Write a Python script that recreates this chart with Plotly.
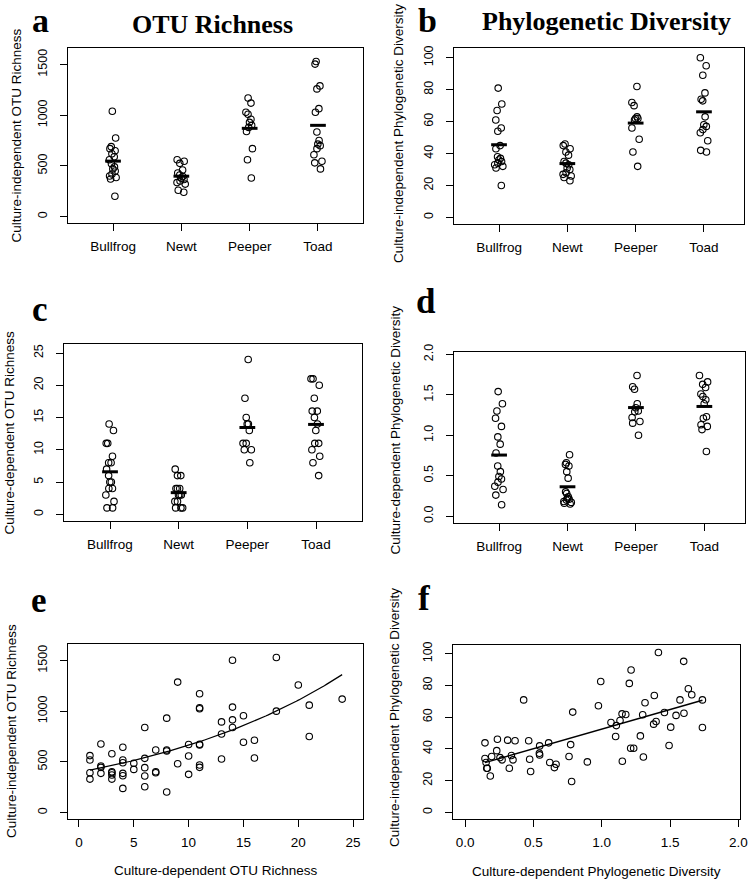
import numpy as np
import plotly.graph_objects as go

groups = ["Bullfrog", "Newt", "Peeper", "Toad"]

# (a) culture-independent OTU richness
a_bullfrog = [1040, 775, 690, 670, 650, 620, 590, 560, 520, 490, 470, 450, 420, 400, 385, 370, 200]
a_newt = [560, 545, 525, 460, 430, 410, 395, 380, 365, 350, 335, 320, 260, 240]
a_peeper = [1170, 1120, 1030, 1010, 960, 930, 900, 880, 840, 670, 560, 380]
a_toad = [1530, 1505, 1290, 1260, 1065, 1030, 835, 750, 715, 700, 670, 610, 545, 530, 470]

# (b) culture-independent phylogenetic diversity
b_bullfrog = [81, 71, 67, 61, 56, 54, 45, 43, 38, 37, 36, 35, 34, 33, 32, 31, 20]
b_newt = [46, 45, 43, 41, 39, 35, 34, 33, 31, 30, 28, 27, 26, 25, 23]
b_peeper = [82, 72, 70, 63, 62, 62, 61, 56, 49, 41, 32]
b_toad = [100, 95, 89, 78, 74, 73, 63, 58, 57, 55, 53, 48, 42, 41]

# (c) culture-dependent OTU richness
c_bullfrog = [14, 13, 11, 11, 9, 8, 8, 7, 6, 5, 5, 4, 4, 3, 2, 1, 1]
c_newt = [7, 6, 6, 4, 4, 4, 3, 3, 3, 2, 2, 1, 1, 1]
c_peeper = [24, 18, 15, 14, 14, 13, 11, 11, 10, 10, 8]
c_toad = [21, 21, 20, 18, 16, 16, 15, 14, 13, 11, 11, 10, 9, 8, 6]

# (d) culture-dependent phylogenetic diversity
d_bullfrog = [1.54, 1.39, 1.30, 1.21, 1.11, 0.98, 0.89, 0.78, 0.62, 0.55, 0.49, 0.46, 0.42, 0.37, 0.33, 0.26, 0.14]
d_newt = [0.76, 0.66, 0.64, 0.62, 0.55, 0.47, 0.30, 0.28, 0.24, 0.21, 0.22, 0.20, 0.18, 0.17, 0.16, 0.15]
d_peeper = [1.74, 1.60, 1.57, 1.39, 1.34, 1.30, 1.29, 1.22, 1.17, 1.15, 1.00]
d_toad = [1.74, 1.66, 1.63, 1.59, 1.51, 1.48, 1.44, 1.39, 1.23, 1.21, 1.13, 1.11, 1.07, 0.80]

# (e) culture-dependent vs culture-independent OTU richness
e_x = [1, 1, 1, 1, 2, 2, 2, 2, 3, 3, 3, 3, 3, 4, 4, 4, 4, 4, 4, 5, 5, 6, 6, 6, 6, 6, 7, 7, 7,
       8, 8, 8, 8, 9, 9, 10, 10, 10, 11, 11, 11, 11, 11, 11, 11, 13, 13, 13, 14, 14, 14, 14,
       15, 15, 16, 16, 18, 18, 20, 21, 21, 24]
e_y = [562, 519, 393, 330, 677, 459, 446, 387, 581, 403, 393, 370, 330, 644, 519, 492, 387, 363, 238,
       486, 426, 839, 535, 443, 360, 254, 618, 403, 393, 932, 618, 608, 202, 1288, 482, 671, 558, 377,
       1173, 1034, 1024, 674, 667, 469, 446, 895, 776, 529, 1503, 1041, 915, 839, 955, 694, 714, 538,
       1530, 1001, 1259, 1060, 750, 1120]

# (f) culture-dependent vs culture-independent phylogenetic diversity
f_x = [0.146, 0.146, 0.154, 0.159, 0.163, 0.185, 0.195, 0.232, 0.237, 0.256, 0.271, 0.312, 0.324,
       0.339, 0.351, 0.366, 0.429, 0.466, 0.473, 0.480, 0.544, 0.546, 0.546, 0.612, 0.620, 0.654,
       0.666, 0.761, 0.773, 0.780, 0.788, 0.895, 0.976, 0.993, 1.068, 1.102, 1.107, 1.134, 1.151,
       1.149, 1.176, 1.202, 1.212, 1.215, 1.234, 1.283, 1.300, 1.305, 1.317, 1.380, 1.385, 1.398,
       1.415, 1.459, 1.493, 1.505, 1.544, 1.573, 1.602, 1.600, 1.634, 1.659, 1.737, 1.737]
f_y = [43.8, 33.9, 31.4, 27.8, 27.8, 22.9, 35.2, 38.9, 46.1, 34.5, 33.1, 45.5, 27.8, 35.8, 33.1,
       45.1, 70.9, 45.1, 33.5, 25.7, 37.3, 41.9, 36.2, 43.8, 31.4, 28.2, 30.3, 35.2, 42.7, 19.4,
       63.2, 31.8, 67.2, 82.5, 56.6, 47.8, 54.7, 57.9, 32.2, 62.1, 61.7, 81.3, 40.4, 89.7, 40.4,
       48.2, 61.5, 34.9, 69.1, 55.6, 73.7, 57.3, 100.8, 62.9, 42.1, 53.7, 61.1, 70.9, 62.5, 95.2,
       77.9, 74.1, 70.9, 53.5]

W, H = 750, 881
SANS = "Liberation Sans, Arial, sans-serif"
SERIF = "Liberation Serif, Times New Roman, serif"


def px_dom(x0, x1, y0, y1):
    return [x0 / W, x1 / W], [1 - y1 / H, 1 - y0 / H]


fig = go.Figure()

marker = dict(symbol="circle-open", size=6.5, color="black", line=dict(width=1.1, color="black"))

strip_panels = [
    (1, [a_bullfrog, a_newt, a_peeper, a_toad]),
    (2, [b_bullfrog, b_newt, b_peeper, b_toad]),
    (3, [c_bullfrog, c_newt, c_peeper, c_toad]),
    (4, [d_bullfrog, d_newt, d_peeper, d_toad]),
]

for k, data in strip_panels:
    xa = "x" if k == 1 else f"x{k}"
    ya = "y" if k == 1 else f"y{k}"
    for i, vals in enumerate(data):
        pos = i + 1
        fig.add_trace(go.Box(
            y=vals, x0=pos, xaxis=xa, yaxis=ya, boxpoints="all", jitter=0.75, pointpos=0,
            width=0.2, fillcolor="rgba(0,0,0,0)", line=dict(color="rgba(0,0,0,0)", width=0),
            marker=marker, hoverinfo="skip", showlegend=False,
        ))
        m = float(np.mean(vals))
        fig.add_trace(go.Scatter(
            x=[pos - 0.115, pos + 0.115], y=[m, m], mode="lines", xaxis=xa, yaxis=ya,
            line=dict(color="black", width=3), hoverinfo="skip", showlegend=False,
        ))

# (e) scatter with Poisson (log-link) fit
ex = np.array(e_x, dtype=float)
ey = np.array(e_y, dtype=float)
X = np.column_stack([np.ones_like(ex), ex])
beta = np.array([np.log(ey.mean()), 0.0])
for _ in range(50):
    eta = X @ beta
    mu = np.exp(eta)
    z = eta + (ey - mu) / mu
    Wt = mu
    beta = np.linalg.solve(X.T @ (X * Wt[:, None]), X.T @ (Wt * z))
xs = np.linspace(ex.min(), ex.max(), 100)
ys = np.exp(beta[0] + beta[1] * xs)

fig.add_trace(go.Scatter(x=e_x, y=e_y, mode="markers", xaxis="x5", yaxis="y5",
                         marker=marker, hoverinfo="skip", showlegend=False))
fig.add_trace(go.Scatter(x=xs, y=ys, mode="lines", xaxis="x5", yaxis="y5",
                         line=dict(color="black", width=1.2), hoverinfo="skip", showlegend=False))

# (f) scatter with linear fit
fx = np.array(f_x)
fy = np.array(f_y)
slope, intercept = np.polyfit(fx, fy, 1)
xl = np.array([fx.min(), fx.max()])
fig.add_trace(go.Scatter(x=f_x, y=f_y, mode="markers", xaxis="x6", yaxis="y6",
                         marker=marker, hoverinfo="skip", showlegend=False))
fig.add_trace(go.Scatter(x=xl, y=intercept + slope * xl, mode="lines", xaxis="x6", yaxis="y6",
                         line=dict(color="black", width=1.5), hoverinfo="skip", showlegend=False))

axis_common = dict(
    showline=True, linecolor="black", linewidth=1, mirror=True, ticks="outside", ticklen=7,
    tickwidth=1, tickcolor="black", showgrid=False, zeroline=False, automargin=False,
)
xtick_font = dict(family=SANS, size=13.5, color="black")
ytick_font = dict(family=SANS, size=12.5, color="black")

boxes = {
    1: (68, 363, 48, 223),
    2: (454, 744, 48, 224),
    3: (64, 362, 344, 521),
    4: (454, 745, 352, 523),
    5: (68, 363, 644, 819),
    6: (453, 740, 645, 819),
}
xranges = {1: [0.341, 4.659], 2: [0.341, 4.586], 3: [0.33, 4.67], 4: [0.341, 4.594],
           5: [-1.0, 25.9], 6: [-0.088, 2.012]}
yranges = {1: [-64, 1664], 2: [-4.1, 106.1], 3: [-1.04, 26.4], 4: [-0.085, 2.03],
           5: [-64, 1664], 6: [-4.2, 105.5]}
yticks = {1: [0, 500, 1000, 1500], 2: [0, 20, 40, 60, 80, 100], 3: [0, 5, 10, 15, 20, 25],
          4: [0, 0.5, 1.0, 1.5, 2.0], 5: [0, 500, 1000, 1500], 6: [0, 20, 40, 60, 80, 100]}

layout = dict(
    width=W, height=H, margin=dict(l=0, r=0, t=0, b=0, pad=0, autoexpand=False),
    paper_bgcolor="white", plot_bgcolor="white", showlegend=False,
)
for k, (x0, x1, y0, y1) in boxes.items():
    dx, dy = px_dom(x0, x1, y0, y1)
    xn = "xaxis" if k == 1 else f"xaxis{k}"
    yn = "yaxis" if k == 1 else f"yaxis{k}"
    xa = dict(axis_common, domain=dx, range=xranges[k], anchor="y" if k == 1 else f"y{k}",
              tickfont=xtick_font, ticklabelstandoff=4)
    if k <= 4:
        xa.update(tickmode="array", tickvals=[1, 2, 3, 4], ticktext=groups)
    elif k == 5:
        xa.update(tickmode="array", tickvals=[0, 5, 10, 15, 20, 25])
    else:
        xa.update(tickmode="array", tickvals=[0, 0.5, 1.0, 1.5, 2.0], tickformat=".1f")
    ya = dict(axis_common, domain=dy, range=yranges[k], anchor="x" if k == 1 else f"x{k}",
              tickfont=ytick_font, tickangle=-90, tickmode="array", tickvals=yticks[k],
              ticklabelstandoff=8)
    if k == 4:
        ya["tickformat"] = ".1f"
    layout[xn] = xa
    layout[yn] = ya

annotations = []


def ann(text, x, y, size, family, angle=0, bold=False, yanchor="middle"):
    annotations.append(dict(
        text=f"<b>{text}</b>" if bold else text, x=x / W, y=1 - y / H, xref="paper", yref="paper",
        xanchor="center", yanchor=yanchor, showarrow=False, textangle=angle,
        font=dict(family=family, size=size, color="black"),
    ))


# panel letters
ann("a", 40, 0, 34, SERIF, bold=True, yanchor="top")
ann("b", 427, 0, 34, SERIF, bold=True, yanchor="top")
for letter, x, y in [("c", 40, 310), ("d", 426, 301), ("e", 39, 600), ("f", 424, 598)]:
    ann(letter, x, y, 35, SERIF, bold=True)

# column titles
ann("OTU Richness", 212.5, 24, 26, SERIF, bold=True)
ann("Phylogenetic Diversity", 606, 22, 26, SERIF, bold=True)

# axis titles
ann("Culture-independent OTU Richness", 16, 135.5, 13.5, SANS, angle=-90)
ann("Culture-independent Phylogenetic Diversity", 399, 134, 13.5, SANS, angle=-90)
ann("Culture-dependent OTU Richness", 9, 432.5, 13.5, SANS, angle=-90)
ann("Culture-dependent Phylogenetic Diversity", 395.5, 430, 13.5, SANS, angle=-90)
ann("Culture-independent OTU Richness", 11, 731, 13.5, SANS, angle=-90)
ann("Culture-independent Phylogenetic Diversity", 394, 718, 13.5, SANS, angle=-90)
ann("Culture-dependent OTU Richness", 215.5, 870, 13.5, SANS)
ann("Culture-dependent Phylogenetic Diversity", 596.5, 871, 13.5, SANS)

layout["annotations"] = annotations
fig.update_layout(**layout)

fig.write_html(
    "out.html",
    config={"displayModeBar": False},
    post_script="document.body.style.margin='0px';document.body.style.padding='0px';",
)
